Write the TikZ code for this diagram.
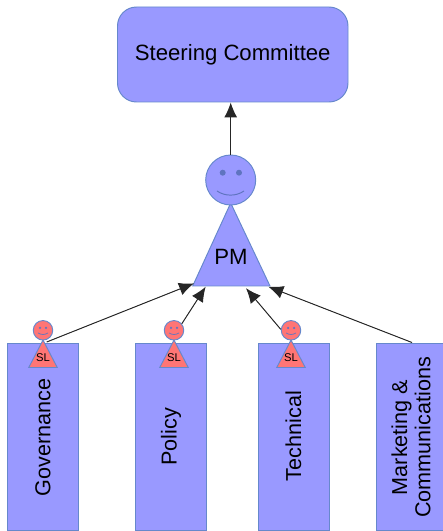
\documentclass[tikz,border=0pt]{standalone}
\usepackage{fontspec}
\setmainfont{Liberation Sans}
\usetikzlibrary{positioning,arrows.meta}
\definecolor{boxblue}{HTML}{9999FF}
\definecolor{linkblue}{HTML}{6688CC}
\definecolor{eyeblue}{HTML}{5F74C0}
\definecolor{leadred}{HTML}{FF7575}
\tikzset{
  shapeline/.style={draw=linkblue,line width=.55pt},
  groupbox/.style={shapeline,fill=boxblue,minimum width=1.42cm,minimum height=3.74cm,inner sep=0pt},
  grouplabel/.style={rotate=90,align=center,font=\fontsize{12.3}{13.2}\selectfont},
  bigtext/.style={font=\fontsize{12.6}{14}\selectfont},
  pmhead/.style={shapeline,fill=boxblue,circle,minimum size=1cm,inner sep=0pt},
  slhead/.style={shapeline,fill=leadred,circle,minimum size=.39cm,inner sep=0pt},
  eye/.style={fill=eyeblue,circle,minimum size=.12cm,inner sep=0pt},
  sleye/.style={fill=eyeblue,circle,minimum size=.05cm,inner sep=0pt},
  smile/.style={draw=eyeblue,line width=.55pt},
  link/.style={-{Latex[length=.3cm,width=.26cm]},line width=.55pt,draw=black!85,fill=black}
}
\begin{document}
\begin{tikzpicture}
  \useasboundingbox (0,0) rectangle (8.86,10.62);
  % steering committee
  \node [shapeline,fill=boxblue,bigtext,rounded corners=.38cm,minimum width=4.61cm,minimum height=1.9cm] (steering) at(4.655,9.53){Steering Committee};
  % groups
  \node [groupbox] (governance) at(.86,1.89){};
  \node [groupbox] (policy) at(3.42,1.89){};
  \node [groupbox] (technical) at(5.87,1.89){};
  \node [groupbox] (marketing) at(8.24,1.89){};
  \node [grouplabel] (governancetext) at(.86,1.87){Governance};
  \node [grouplabel] (policytext) at(3.42,1.88){Policy};
  \node [grouplabel] (technicaltext) at(5.87,1.9){Technical};
  \node [grouplabel] (marketingtext) at(8.22,1.87){Marketing \&\\Communications};
  % pm
  \draw [shapeline,fill=boxblue] (4.614,6.56) -- (5.4,4.9) -- (3.854,4.9) -- cycle;
  \node [pmhead] (pmface) at(4.614,7.02){};
  \node [eye] (pmeyeleft) at(4.454,7.166){};
  \node [eye] (pmeyeright) at(4.78,7.166){};
  \draw [smile] (4.34,6.8) .. controls (4.5,6.69) and (4.72,6.69) .. (4.88,6.8);
  \node [bigtext] (pmtext) at(4.62,5.486){PM};
  % team leaders
  \foreach \name/\xpos in {govlead/.86,pollead/3.48,techlead/5.82}{
    \draw [shapeline,fill=leadred] (\xpos,3.82) -- (\xpos+.285,3.27) -- (\xpos-.285,3.27) -- cycle;
    \node [slhead] (\name) at(\xpos,4.014){};
    \node [sleye] (\name eyeleft) at(\xpos-.06,4.06){};
    \node [sleye] (\name eyeright) at(\xpos+.06,4.06){};
    \draw [smile,line width=.4pt] (\xpos-.1,3.96) .. controls (\xpos-.03,3.92) and (\xpos+.03,3.92) .. (\xpos+.1,3.96);
    \node [font=\fontsize{6.4}{7}\selectfont] (\name text) at(\xpos,3.46){SL};
  }
  % connectors
  \coordinate (govstart) at(.934,3.78);
  \coordinate (govend) at(3.88,4.953);
  \coordinate (polend) at(4.114,4.886);
  \coordinate (techend) at(4.92,4.856);
  \coordinate (markend) at(5.366,4.886);
  \draw [link](pmface.north) -- (pmface.north |- steering.south);
  \draw [link](govstart) -- (govend);
  \draw [link](pollead.40) -- (polend);
  \draw [link](techlead.175) -- (techend);
  \draw [link](marketing.north) -- (markend);
\end{tikzpicture}
\end{document}
